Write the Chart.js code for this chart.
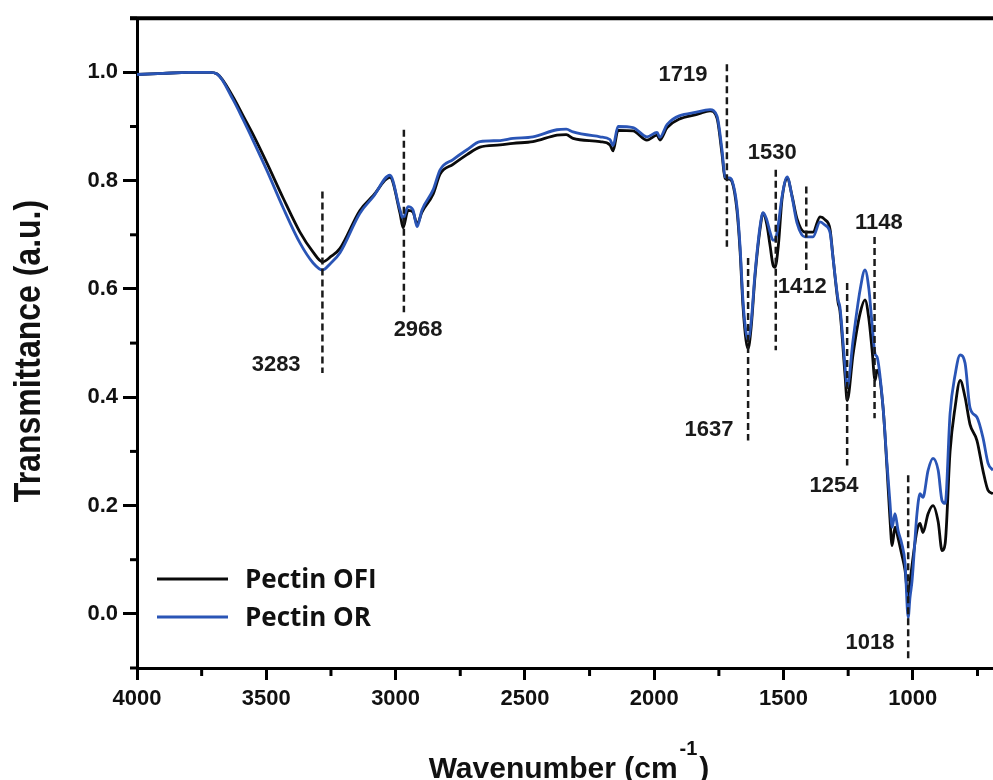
<!DOCTYPE html>
<html>
<head>
<meta charset="utf-8">
<script src="https://cdn.jsdelivr.net/npm/chart.js@4"></script>
<style>
  html, body { margin: 0; background: #fff; }
  #wrap { width: 993px; height: 780px; position: relative; }
</style>
</head>
<body>
<div id="wrap"><canvas id="ftir"></canvas></div>
<script>
// wavenumber grid (cm-1)
const wavenumbers = [
  4000, 3900, 3800, 3720, 3690, 3629, 3590, 3551, 3497, 3435,
  3370, 3319, 3283, 3250, 3215, 3138, 3087, 3022, 2983, 2971,
  2952, 2933, 2917, 2898, 2855, 2828, 2778, 2724, 2674, 2596,
  2546, 2469, 2376, 2340, 2314, 2210, 2171, 2159, 2140, 2082,
  2028, 1989, 1978, 1950, 1823, 1784, 1757, 1738, 1726, 1710,
  1699, 1680, 1668, 1657, 1645, 1637, 1625, 1610, 1591, 1579,
  1565, 1552, 1541, 1533, 1520, 1506, 1486, 1467, 1448, 1417,
  1386, 1359, 1340, 1320, 1309, 1289, 1282, 1262, 1254, 1231,
  1204, 1185, 1170, 1158, 1146, 1138, 1115, 1100, 1089, 1080,
  1069, 1057, 1043, 1030, 1018, 1011, 1003, 984, 972, 961,
  941, 922, 902, 887, 875, 856, 837, 817, 798, 779,
  752, 729, 709, 690
];

const ofiValues = [
  0.996, 0.998, 1.0, 1.0, 0.997, 0.955, 0.92, 0.885, 0.832, 0.768,
  0.705, 0.668, 0.65, 0.66, 0.675, 0.745, 0.772, 0.806, 0.74, 0.713,
  0.745, 0.742, 0.72, 0.742, 0.775, 0.812, 0.83, 0.848, 0.862, 0.866,
  0.869, 0.872, 0.884, 0.885, 0.878, 0.872, 0.866, 0.855, 0.893, 0.892,
  0.875, 0.884, 0.875, 0.898, 0.924, 0.929, 0.915, 0.85, 0.804, 0.803,
  0.798, 0.745, 0.67, 0.57, 0.505, 0.49, 0.53, 0.625, 0.71, 0.74,
  0.72, 0.68, 0.645, 0.64, 0.68, 0.765, 0.805, 0.772, 0.73, 0.705,
  0.705, 0.733, 0.728, 0.71, 0.66, 0.575, 0.56, 0.44, 0.394, 0.48,
  0.555, 0.58, 0.545, 0.49, 0.431, 0.45, 0.38, 0.27, 0.18, 0.126,
  0.16, 0.14, 0.11, 0.08, 0.03, 0.06, 0.09, 0.154, 0.167, 0.15,
  0.185, 0.2, 0.17, 0.117, 0.13, 0.3, 0.38, 0.431, 0.4, 0.35,
  0.32, 0.265, 0.228, 0.222
];

const orValues = [
  0.996, 0.998, 1.0, 1.0, 0.997, 0.95, 0.913, 0.874, 0.818, 0.75,
  0.685, 0.648, 0.635, 0.648, 0.667, 0.74, 0.77, 0.81, 0.746, 0.73,
  0.752, 0.746, 0.715, 0.746, 0.783, 0.82, 0.839, 0.857, 0.872, 0.874,
  0.878, 0.881, 0.894, 0.895, 0.89, 0.881, 0.876, 0.865, 0.9, 0.898,
  0.881, 0.889, 0.88, 0.904, 0.928, 0.931, 0.919, 0.857, 0.807, 0.805,
  0.8, 0.752, 0.678, 0.58, 0.52, 0.506, 0.54, 0.63, 0.715, 0.741,
  0.728, 0.705, 0.69, 0.69, 0.72, 0.77, 0.807, 0.77, 0.722, 0.696,
  0.696, 0.724, 0.718, 0.704, 0.659, 0.58, 0.567, 0.456, 0.419, 0.506,
  0.598, 0.635, 0.6, 0.537, 0.48, 0.474, 0.381, 0.278, 0.209, 0.16,
  0.185, 0.154, 0.13, 0.093, -0.007, 0.03, 0.061, 0.185, 0.222, 0.215,
  0.265, 0.287, 0.265, 0.209, 0.204, 0.37, 0.44, 0.478, 0.463, 0.381,
  0.363, 0.326, 0.278, 0.265
];

const seriesNames = ['Pectin OFI', 'Pectin OR'];
const xTickValues = [4000, 3750, 3500, 3250, 3000, 2750, 2500, 2250, 2000, 1750, 1500, 1250, 1000, 750];
const yTickValues = [-0.1, 0.0, 0.1, 0.2, 0.3, 0.4, 0.5, 0.6, 0.7, 0.8, 0.9, 1.0, 1.1];

// marked bands: dashed line from/to (a.u.), label spot in data units
const peaks = [
  { w: 3283, from: 0.78, to: 0.445, lx: 3462, ly: 0.459 },
  { w: 2968, from: 0.894, to: 0.557, lx: 2913, ly: 0.524 },
  { w: 1719, from: 1.015, to: 0.678, lx: 1889, ly: 0.996 },
  { w: 1637, from: 0.657, to: 0.32, lx: 1788, ly: 0.339 },
  { w: 1530, from: 0.82, to: 0.487, lx: 1544, ly: 0.852 },
  { w: 1412, from: 0.789, to: 0.635, lx: 1428, ly: 0.604 },
  { w: 1254, from: 0.611, to: 0.274, lx: 1305, ly: 0.237 },
  { w: 1148, from: 0.696, to: 0.361, lx: 1131, ly: 0.722 },
  { w: 1018, from: 0.256, to: -0.083, lx: 1166, ly: -0.054 }
];

const isMajorX = v => v % 500 === 0;
const isMajorY = v => Math.round(v * 10) % 2 === 0;
const axisFont = { family: '"Liberation Sans", Arial, sans-serif', size: 22, weight: 'bold' };

const decor = {
  id: 'decor',
  afterDatasetsDraw(chart) {
    const { ctx, scales: { x, y } } = chart;
    ctx.save();
    ctx.strokeStyle = '#1a1a1a';
    ctx.lineWidth = 2.5;
    ctx.setLineDash([7, 4]);
    peaks.forEach(p => {
      const px = x.getPixelForValue(p.w);
      ctx.beginPath();
      ctx.moveTo(px, y.getPixelForValue(p.from));
      ctx.lineTo(px, y.getPixelForValue(p.to));
      ctx.stroke();
    });
    ctx.setLineDash([]);
    ctx.fillStyle = '#1a1a1a';
    ctx.font = 'bold 22px "Liberation Sans", Arial, sans-serif';
    ctx.textAlign = 'center';
    ctx.textBaseline = 'middle';
    peaks.forEach(p => {
      ctx.fillText(String(p.w), x.getPixelForValue(p.lx), y.getPixelForValue(p.ly));
    });
    ctx.restore();
  },
  afterDraw(chart) {
    const { ctx, chartArea: a, scales: { x, y } } = chart;
    ctx.save();
    ctx.strokeStyle = '#000';
    // top frame line
    ctx.lineWidth = 4;
    ctx.beginPath();
    ctx.moveTo(a.left - 7, a.top);
    ctx.lineTo(a.right, a.top);
    ctx.stroke();
    // minor ticks
    ctx.lineWidth = 3;
    yTickValues.filter(v => !isMajorY(v)).forEach(v => {
      const py = y.getPixelForValue(v);
      ctx.beginPath();
      ctx.moveTo(a.left - 7, py);
      ctx.lineTo(a.left, py);
      ctx.stroke();
    });
    xTickValues.filter(v => !isMajorX(v)).forEach(v => {
      const px = x.getPixelForValue(v);
      ctx.beginPath();
      ctx.moveTo(px, a.bottom);
      ctx.lineTo(px, a.bottom + 8);
      ctx.stroke();
    });

    // x title with superscript
    ctx.fillStyle = '#111';
    ctx.textBaseline = 'alphabetic';
    ctx.textAlign = 'left';
    const bigFont = 'bold 30px "Liberation Sans", Arial, sans-serif';
    const supFont = 'bold 20px "Liberation Sans", Arial, sans-serif';
    ctx.font = bigFont;
    const wMain = ctx.measureText('Wavenumber (cm').width;
    const wClose = ctx.measureText(')').width;
    ctx.font = supFont;
    const wSup = ctx.measureText('-1').width;
    let sx = (a.left + a.right) / 2 + 4 - (wMain + wSup + wClose + 4) / 2;
    ctx.font = bigFont;
    ctx.fillText('Wavenumber (cm', sx, 778);
    sx += wMain + 2;
    ctx.font = supFont;
    ctx.fillText('-1', sx, 755);
    sx += wSup + 2;
    ctx.font = bigFont;
    ctx.fillText(')', sx, 778);

    // y title, glyphs a little wider as in the figure
    ctx.save();
    ctx.translate(30, 351);
    ctx.rotate(-Math.PI / 2);
    ctx.scale(1, 1.15);
    ctx.font = 'bold 32px "Liberation Sans", Arial, sans-serif';
    ctx.textAlign = 'center';
    ctx.textBaseline = 'middle';
    ctx.fillText('Transmittance (a.u.)', 0, 0);
    ctx.restore();

    // legend inside the plot
    chart.data.datasets.forEach((ds, i) => {
      const ly = a.bottom - 89 + i * 38;
      ctx.strokeStyle = ds.borderColor;
      ctx.lineWidth = 3;
      ctx.beginPath();
      ctx.moveTo(a.left + 20, ly);
      ctx.lineTo(a.left + 91, ly);
      ctx.stroke();
      ctx.fillStyle = '#111';
      ctx.font = 'bold 26px "Open Sans", sans-serif';
      ctx.textAlign = 'left';
      ctx.textBaseline = 'alphabetic';
      ctx.fillText(ds.label, a.left + 108, ly + 9);
    });
    ctx.restore();
  }
};

const toPoints = vals => wavenumbers.map((w, i) => ({ x: w, y: vals[i] }));

new Chart(document.getElementById('ftir'), {
  type: 'line',
  data: {
    datasets: [
      {
        label: seriesNames[0],
        data: toPoints(ofiValues),
        borderColor: '#0a0a0a',
        borderWidth: 2.8,
        pointRadius: 0,
        cubicInterpolationMode: 'monotone',
        order: 1
      },
      {
        label: seriesNames[1],
        data: toPoints(orValues),
        borderColor: '#2a55b6',
        borderWidth: 2.8,
        pointRadius: 0,
        cubicInterpolationMode: 'monotone',
        order: 0
      }
    ]
  },
  options: {
    responsive: true,
    maintainAspectRatio: false,
    animation: false,
    layout: { padding: { top: 17, left: 0, right: 0, bottom: 0 } },
    plugins: { legend: { display: false }, tooltip: { enabled: false } },
    scales: {
      x: {
        type: 'linear',
        reverse: true,
        min: 690,
        max: 4000,
        afterBuildTicks: s => { s.ticks = xTickValues.map(v => ({ value: v })); },
        afterFit: s => { s.height = 112; },
        border: { color: '#000', width: 3 },
        grid: {
          drawOnChartArea: false,
          tickLength: 12,
          tickWidth: 3,
          tickColor: c => (c.tick && isMajorX(c.tick.value)) ? '#000' : 'rgba(0,0,0,0)'
        },
        ticks: {
          autoSkip: false,
          maxRotation: 0,
          padding: 6,
          color: '#111',
          font: axisFont,
          callback: v => isMajorX(v) ? String(v) : ''
        }
      },
      y: {
        min: -0.1,
        max: 1.1,
        afterBuildTicks: s => { s.ticks = yTickValues.map(v => ({ value: v })); },
        afterFit: s => { s.width = 137; },
        border: { color: '#000', width: 3 },
        grid: {
          drawOnChartArea: false,
          tickLength: 14,
          tickWidth: 3,
          tickColor: c => (c.tick && isMajorY(c.tick.value)) ? '#000' : 'rgba(0,0,0,0)'
        },
        ticks: {
          padding: 5,
          color: '#111',
          font: axisFont,
          callback: v => isMajorY(v) ? v.toFixed(1) : ''
        }
      }
    }
  },
  plugins: [decor]
});
</script>
</body>
</html>
